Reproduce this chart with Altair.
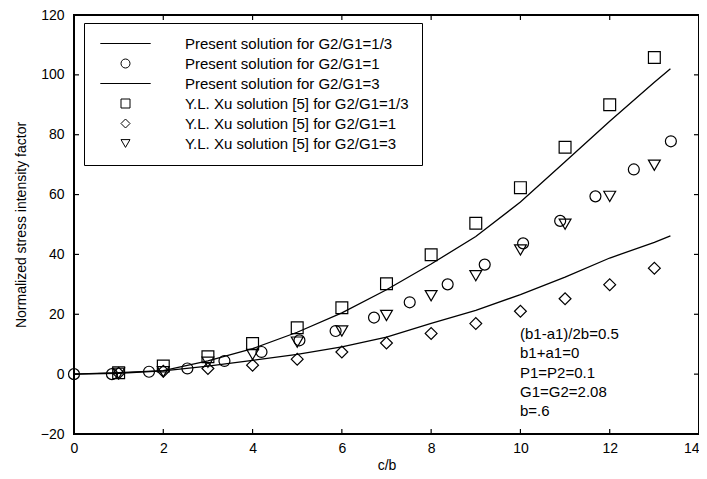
import altair as alt
import pandas as pd

# ---- data ----
line_x = [0, 1, 2, 3, 4, 5, 6, 7, 8, 9, 10, 11, 12, 13, 13.36]
line_g13 = [0, 0.5, 1.2, 4.4, 8.5, 14.0, 20.5, 28.2, 36.8, 46.0, 57.5, 71.0, 84.5, 97.5, 102.0]
line_g3 = [0, 0.3, 1.1, 2.7, 4.6, 6.6, 9.1, 12.4, 17.0, 21.3, 26.6, 32.4, 38.8, 44.0, 46.2]

circ_x = [0, 0.85, 1.68, 2.54, 3.37, 4.2, 5.05, 5.86, 6.72, 7.52, 8.37, 9.2, 10.06, 10.89, 11.68, 12.54, 13.37]
circ_y = [0, 0, 0.8, 1.9, 4.4, 7.4, 11.3, 14.4, 18.9, 24.0, 30.0, 36.6, 43.7, 51.2, 59.4, 68.4, 77.8]

xu_x = [1, 2, 3, 4, 5, 6, 7, 8, 9, 10, 11, 12, 13]
xu_g13 = [0.5, 2.7, 5.8, 10.2, 15.5, 22.2, 30.2, 39.9, 50.4, 62.3, 75.8, 90.0, 105.8]
xu_g1 = [0.3, 1.0, 1.9, 3.0, 5.0, 7.4, 10.4, 13.6, 16.9, 21.0, 25.2, 29.9, 35.4]
xu_g3 = [0.3, 0.8, 4.0, 6.6, 10.7, 14.4, 19.6, 26.2, 32.9, 41.5, 50.1, 59.4, 69.8]

labels = [
    "Present solution for G2/G1=1/3",
    "Present solution for G2/G1=1",
    "Present solution for G2/G1=3",
    "Y.L. Xu solution [5] for G2/G1=1/3",
    "Y.L. Xu solution [5] for G2/G1=1",
    "Y.L. Xu solution [5] for G2/G1=3",
]
shapes = ["M-5.6,0H5.6", "circle", "M-5.6,0H5.6", "square", "diamond", "triangle-down"]

x_domain = [0, 14]
y_domain = [-20, 120]
x_ticks = [0, 2, 4, 6, 8, 10, 12, 14]
y_ticks = [-20, 0, 20, 40, 60, 80, 100, 120]

note_lines = ["(b1-a1)/2b=0.5", "b1+a1=0", "P1=P2=0.1", "G1=G2=2.08", "b=.6"]

FONT = "Liberation Sans"
W, H = 625, 419
TK = 5  # inward tick length in pixels

# ---- tables ----
lines_df = pd.concat([
    pd.DataFrame({"x": line_x, "y": line_g13, "s": labels[0]}),
    pd.DataFrame({"x": line_x, "y": line_g3, "s": labels[2]}),
])
circ_df = pd.DataFrame({"x": circ_x, "y": circ_y, "s": labels[1]})
xu_df = pd.concat([
    pd.DataFrame({"x": xu_x, "y": xu_g13, "s": labels[3]}),
    pd.DataFrame({"x": xu_x, "y": xu_g1, "s": labels[4]}),
    pd.DataFrame({"x": xu_x, "y": xu_g3, "s": labels[5]}),
])
one_df = pd.DataFrame({"k": [0]})

# frame outline along the scale domain (corners of the plot area)
x0, x1 = x_domain
y0, y1 = y_domain
frame_df = pd.DataFrame({
    "x": [x0, x1, x1, x0, x0],
    "y": [y0, y0, y1, y1, y0],
    "i": [0, 1, 2, 3, 4],
})

# inward tick segments built from the tick values
dx = TK * (x1 - x0) / W
dy = TK * (y1 - y0) / H
rows = []
for t in x_ticks[1:-1]:
    rows += [dict(x=t, y=y0, g=f"b{t}", i=0), dict(x=t, y=y0 + dy, g=f"b{t}", i=1)]
    rows += [dict(x=t, y=y1, g=f"t{t}", i=0), dict(x=t, y=y1 - dy, g=f"t{t}", i=1)]
for v in y_ticks[1:-1]:
    rows += [dict(x=x0, y=v, g=f"l{v}", i=0), dict(x=x0 + dx, y=v, g=f"l{v}", i=1)]
    rows += [dict(x=x1, y=v, g=f"r{v}", i=0), dict(x=x1 - dx, y=v, g=f"r{v}", i=1)]
ticks_df = pd.DataFrame(rows)

xs = alt.Scale(domain=x_domain, nice=False, zero=False)
ys = alt.Scale(domain=y_domain, nice=False, zero=False)
shape_scale = alt.Scale(domain=labels, range=shapes)

x_axis = alt.Axis(
    orient="bottom", values=x_ticks, title="c/b", domain=False, ticks=False,
    labelFlush=False, labelAlign=alt.ExprRef("datum.value == 14 ? 'right' : 'center'"),
    labelFont=FONT, labelFontSize=14, labelColor="black", labelPadding=7,
    titleFont=FONT, titleFontSize=14, titleFontWeight="normal", titleColor="black",
    titlePadding=3, grid=False)
y_axis = alt.Axis(
    orient="left", values=y_ticks, title="Normalized stress intensity factor",
    domain=False, ticks=False,
    labelFont=FONT, labelFontSize=14, labelColor="black", labelPadding=10,
    titleFont=FONT, titleFontSize=14, titleFontWeight="normal", titleColor="black",
    titlePadding=12, grid=False)

legend = alt.Legend(
    title=None, orient="none", legendX=10, legendY=8,
    fillColor="white", strokeColor="black", padding=13,
    symbolOffset=21, symbolSize=81, symbolStrokeWidth=1,
    symbolStrokeColor="black", symbolFillColor="transparent",
    labelFont=FONT, labelFontSize=15, labelColor="black",
    labelOffset=52, rowPadding=4, labelLimit=500,
)

X = alt.X("x:Q", scale=xs, axis=x_axis)
Y = alt.Y("y:Q", scale=ys, axis=y_axis)

frame = alt.Chart(frame_df).mark_line(color="black", strokeWidth=2).encode(
    x=X, y=Y, order="i:O")

ticks = alt.Chart(ticks_df).mark_line(color="black", strokeWidth=1.2).encode(
    x=X, y=Y, detail="g:N", order="i:O")

lines = alt.Chart(lines_df).mark_line(color="black", strokeWidth=1.3).encode(
    x=X, y=Y, detail="s:N")

circles = alt.Chart(circ_df).mark_point(
    filled=False, color="black", size=120, strokeWidth=1.2, opacity=1
).encode(x=X, y=Y, shape=alt.Shape("s:N", scale=shape_scale, legend=legend))

xu = alt.Chart(xu_df).mark_point(
    filled=False, color="black", size=140, strokeWidth=1.2, opacity=1
).encode(x=X, y=Y, shape=alt.Shape("s:N", scale=shape_scale, legend=legend))

note = alt.Chart(one_df).mark_text(
    text=note_lines, align="left", baseline="top", font=FONT, fontSize=15,
    lineHeight=19.3, color="black",
).encode(x=alt.value(446), y=alt.value(312))

chart = alt.layer(
    frame, ticks, lines, circles, xu, note
).properties(
    width=W, height=H,
    autosize=alt.AutoSizeParams(type="none"),
    padding={"left": 66, "top": 7, "right": 0, "bottom": 37},
    background="white",
).configure_view(stroke="black", strokeWidth=2)

chart.save("out.html", embed_options={"renderer": "svg", "actions": False})
